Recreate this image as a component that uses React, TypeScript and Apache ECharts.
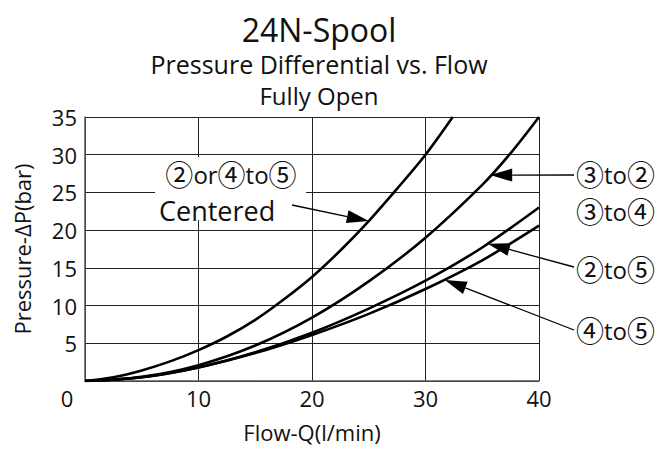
import React, { useEffect, useRef } from "react";
import * as echarts from "echarts";

// ---- data ----
const xTicks = [0, 10, 20, 30, 40];
const yTicks = [5, 10, 15, 20, 25, 30, 35];

const flowCentered = [0, 2.5, 5, 7.5, 10, 12.5, 15, 17.5, 20, 22.5, 25, 27.5, 30, 32.4];
const pCentered = [0, 0.5, 1.4, 2.6, 4.1, 5.9, 8.1, 10.8, 13.8, 17.3, 21.2, 25.5, 30.0, 35];

const flow3to2 = [0, 5, 10, 15, 20, 25, 30, 35, 37.5, 40];
const p3to2 = [0, 0.55, 2.1, 4.7, 8.4, 13.2, 19.0, 26.0, 30.2, 35];

const flow2to5 = [0, 5, 10, 15, 20, 25, 30, 35, 40];
const p2to5 = [0, 0.5, 1.8, 3.8, 6.4, 9.6, 13.3, 17.7, 23.0];

const flow4to5 = [0, 5, 10, 15, 20, 25, 30, 35, 40];
const p4to5 = [0, 0.5, 1.8, 3.7, 6.1, 8.9, 12.2, 16.0, 20.6];

// arrow tips, in data coordinates (flow, pressure)
const tipCentered = [25, 21.2];
const tip3to2 = [35.7, 27.3];
const tip2to5 = [35.5, 18.2];
const tip4to5 = [31.7, 13.4];

const FONT = '"Open Sans", "DejaVu Sans", sans-serif';
const CJK = '"Noto Sans CJK JP", "DejaVu Sans", sans-serif';

export default function App() {
  const ref = useRef<HTMLDivElement>(null);

  useEffect(() => {
    const chart = echarts.init(ref.current!, null, { renderer: "svg" });
    const pair = (xs: number[], ys: number[]) => xs.map((x, i) => [x, ys[i]]);
    const mkSeries = (name: string, xs: number[], ys: number[]) => ({
      name,
      type: "line",
      data: pair(xs, ys),
      smooth: 0.3,
      symbol: "none",
      silent: true,
      lineStyle: { color: "#000", width: 2.6 },
      z: 3,
    });

    chart.setOption({
      animation: false,
      backgroundColor: "#fff",
      title: [
        {
          text: "24N-Spool",
          left: 314,
          top: 8,
          textAlign: "center",
          textStyle: { fontFamily: FONT, fontSize: 32, fontWeight: "normal", color: "#111" },
        },
        {
          text: "Pressure Differential vs. Flow",
          left: 314,
          top: 46,
          textAlign: "center",
          textStyle: { fontFamily: FONT, fontSize: 25, fontWeight: "normal", color: "#111" },
        },
        {
          text: "Fully Open",
          left: 314,
          top: 78,
          textAlign: "center",
          textStyle: { fontFamily: FONT, fontSize: 24, fontWeight: "normal", color: "#111" },
        },
      ],
      grid: { left: 85, right: 124, top: 117, bottom: 69, containLabel: false },
      xAxis: {
        type: "value",
        min: 0,
        max: 40,
        interval: 10,
        name: "Flow-Q(l/min)",
        nameLocation: "middle",
        nameGap: 40,
        nameTextStyle: { fontFamily: FONT, fontSize: 22, color: "#111" },
        axisLine: { show: true, onZero: false, lineStyle: { color: "#555", width: 1.5 } },
        axisTick: { show: false },
        axisLabel: {
          margin: 6,
          fontFamily: FONT,
          fontSize: 22,
          color: "#111",
          formatter: (v: number) => (v === 0 ? "{z|0}" : xTicks.includes(v) ? String(v) : ""),
          rich: { z: { fontFamily: FONT, fontSize: 22, color: "#111", padding: [0, 36, 0, 0] } },
        },
        splitLine: { show: true, lineStyle: { color: "#222", width: 1 } },
      },
      yAxis: {
        type: "value",
        min: 0,
        max: 35,
        interval: 5,
        name: "Pressure-ΔP(bar)",
        nameLocation: "middle",
        nameGap: 52,
        nameRotate: 90,
        nameTextStyle: { fontFamily: FONT, fontSize: 22, color: "#111" },
        axisLine: { show: true, onZero: false, lineStyle: { color: "#555", width: 1.5 } },
        axisTick: { show: false },
        axisLabel: {
          margin: 8,
          fontFamily: FONT,
          fontSize: 22,
          color: "#111",
          formatter: (v: number) => (yTicks.includes(v) ? String(v) : ""),
        },
        splitLine: { show: true, lineStyle: { color: "#222", width: 1 } },
      },
      series: [
        mkSeries("②or④to⑤ Centered", flowCentered, pCentered),
        mkSeries("③to② ③to④", flow3to2, p3to2),
        mkSeries("②to⑤", flow2to5, p2to5),
        mkSeries("④to⑤", flow4to5, p4to5),
      ],
    });

    const toPx = (p: number[]) => chart.convertToPixel({ gridIndex: 0 }, p) as number[];

    const arrow = (from: number[], tipData: number[]) => {
      const tip = toPx(tipData);
      const dx = tip[0] - from[0];
      const dy = tip[1] - from[1];
      const len = Math.sqrt(dx * dx + dy * dy);
      const ux = dx / len;
      const uy = dy / len;
      const hl = 22;
      const hw = 6.5;
      const bx = tip[0] - ux * hl;
      const by = tip[1] - uy * hl;
      return [
        {
          type: "line",
          shape: { x1: from[0], y1: from[1], x2: bx, y2: by },
          style: { stroke: "#000", lineWidth: 1.3 },
          z: 10,
        },
        {
          type: "polygon",
          shape: {
            points: [
              [tip[0], tip[1]],
              [bx - uy * hw, by + ux * hw],
              [bx + uy * hw, by - ux * hw],
            ],
          },
          style: { fill: "#000" },
          z: 10,
        },
      ];
    };

    const rich = {
      c: { fontFamily: CJK, fontSize: 28, lineHeight: 26, fill: "#111", color: "#111" },
      t: { fontFamily: FONT, fontSize: 24, lineHeight: 26, fill: "#111", color: "#111" },
    };

    const label = (text: string, x: number, y: number, align: string) => ({
      type: "text",
      z: 11,
      style: {
        text,
        x,
        y,
        align,
        verticalAlign: "middle",
        rich,
        fill: "#111",
        font: `24px ${FONT}`,
      },
    });

    chart.setOption({
      graphic: [
        { type: "rect", shape: { x: 155, y: 157, width: 151, height: 63 }, style: { fill: "#fff" }, z: 9 },
        label("{c|②}{t|or}{c|④}{t|to}{c|⑤}", 231, 174, "center"),
        {
          type: "text",
          z: 11,
          style: { text: "Centered", x: 159, y: 210, align: "left", verticalAlign: "middle", fill: "#111", font: `27px ${FONT}`, lineHeight: 26 },
        },
        ...arrow([292, 205], tipCentered),
        label("{c|③}{t|to}{c|②}", 576, 174, "left"),
        label("{c|③}{t|to}{c|④}", 576, 211, "left"),
        ...arrow([574, 175], tip3to2),
        label("{c|②}{t|to}{c|⑤}", 576, 269, "left"),
        ...arrow([574, 267], tip2to5),
        label("{c|④}{t|to}{c|⑤}", 576, 330, "left"),
        ...arrow([574, 330], tip4to5),
      ],
    });

    return () => chart.dispose();
  }, []);

  return (
    <div
      ref={ref}
      style={{ position: "fixed", left: 0, top: 0, width: 663, height: 450, background: "#fff" }}
    />
  );
}
